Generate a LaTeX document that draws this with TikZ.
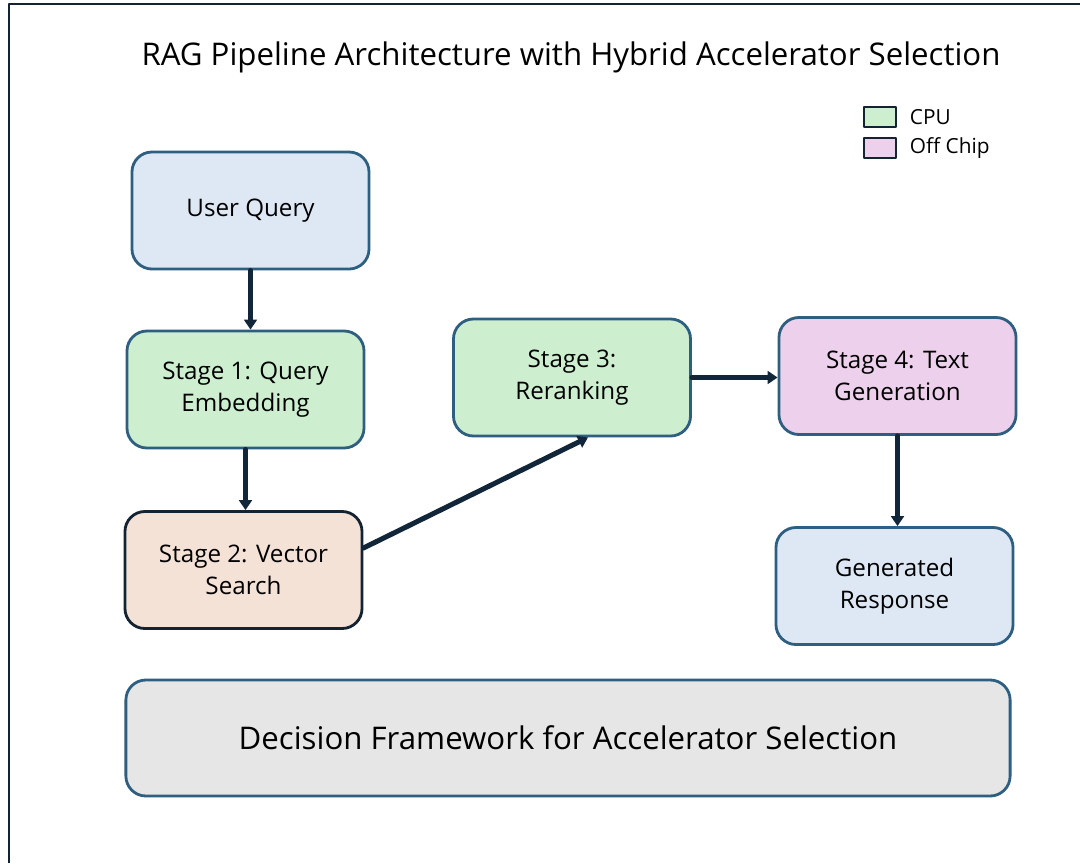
\documentclass[tikz,border=0pt]{standalone}
\usepackage{fontspec}
\setmainfont{Open Sans}
\usetikzlibrary{arrows.meta}
\definecolor{boxline}{RGB}{46,94,128}
\definecolor{darkline}{RGB}{20,35,50}
\definecolor{arrowc}{RGB}{18,38,58}
\definecolor{bluefill}{RGB}{222,232,244}
\definecolor{greenfill}{RGB}{205,239,208}
\definecolor{peachfill}{RGB}{245,226,214}
\definecolor{pinkfill}{RGB}{237,208,236}
\definecolor{grayfill}{RGB}{230,230,230}
\tikzset{
    stagebox/.style={draw=boxline, line width=2pt, rounded corners=0.5cm,
        minimum width=5.925cm, minimum height=2.925cm, align=center,
        font=\fontsize{17.2}{22.5}\selectfont},
    keybox/.style={draw=darkline, line width=1.6pt, minimum width=0.8cm, minimum height=0.5cm, inner sep=0pt},
    flow/.style={draw=arrowc, line width=3.6pt, -{Triangle[length=7pt,width=9pt]}}
}
\begin{document}
\begin{tikzpicture}[line cap=round, line join=round, x=0.025cm, y=-0.025cm]
                \useasboundingbox (0,0) rectangle (1080,863);
                \draw[darkline, line width=2pt, line cap=butt] (9,863) -- (9,4) -- (1080,4);
                \node (title) at (571,57) {\fontsize{22.2}{26}\selectfont RAG Pipeline Architecture with Hybrid Accelerator Selection};
                % legend
                \node[keybox, fill=greenfill] (cpukey) at (880,117) {};
                \node[keybox, fill=pinkfill] (offkey) at (880,148) {};
                \node[anchor=west, font=\fontsize{14.8}{17}\selectfont] (cpulabel) at (905,117) {CPU};
                \node[anchor=west, font=\fontsize{14.8}{17}\selectfont] (offlabel) at (905,148) {Off Chip};
                % stages
                \node[stagebox, fill=bluefill] (query) at (250.5,210.5) {User Query};
                \node[stagebox, fill=greenfill] (stage1) at (245.5,389.5) {Stage 1: Query\\Embedding};
                \node[stagebox, fill=peachfill, draw=darkline] (stage2) at (243.5,570) {Stage 2: Vector\\Search};
                \node[stagebox, fill=greenfill] (stage3) at (572,377.5) {Stage 3:\\Reranking};
                \node[stagebox, fill=pinkfill] (stage4) at (897.5,376) {Stage 4: Text\\Generation};
                \node[stagebox, fill=bluefill] (response) at (894.5,586) {Generated\\Response};
                \node[stagebox, fill=grayfill, minimum width=22.1cm, minimum height=2.9cm,
                    font=\fontsize{22.2}{27}\selectfont] (decision) at (568,738) {Decision Framework for Accelerator Selection};
                % connectors
                \draw[flow] (query.south) -- (query.south |- stage1.north);
                \draw[flow] (stage1.south) -- (stage1.south |- stage2.north);
                \draw[flow] ([yshift=0.55cm]stage2.east) -- ([xshift=0.4cm]stage3.south);
                \draw[flow] (stage3.east) -- (stage3.east -| stage4.west);
                \draw[flow] (stage4.south) -- (stage4.south |- response.north);
            \end{tikzpicture}
\end{document}
